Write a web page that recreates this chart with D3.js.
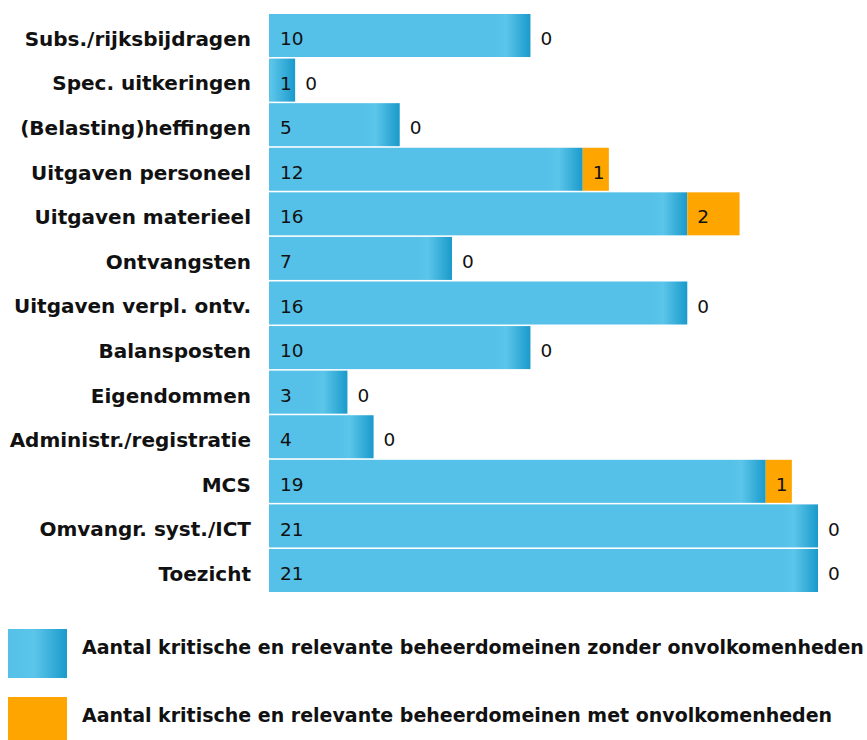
<!DOCTYPE html>
<html>
<head>
<meta charset="utf-8">
<script src="https://cdn.jsdelivr.net/npm/d3@7"></script>
<style>
    body { margin: 0; background: #fff; }
    svg text { font-family: "DejaVu Sans", Verdana, sans-serif; fill: #111; }
    .cat { font-weight: bold; font-size: 20px; }
    .val { font-size: 18.5px; }
    .leg { font-weight: bold; font-size: 19px; }
</style>
</head>
<body>
<svg id="chart"></svg>
<script>
// 分类
var categories = ['Subs./rijksbijdragen', 'Spec. uitkeringen', '(Belasting)heffingen', 'Uitgaven personeel',
    'Uitgaven materieel', 'Ontvangsten', 'Uitgaven verpl. ontv.', 'Balansposten', 'Eigendommen',
    'Administr./registratie', 'MCS', 'Omvangr. syst./ICT', 'Toezicht'];
// 无缺陷
var zonder = [10, 1, 5, 12, 16, 7, 16, 10, 3, 4, 19, 21, 21];
// 有缺陷
var met = [0, 0, 0, 1, 2, 0, 0, 0, 0, 0, 1, 0, 0];
var legendLabels = ['Aantal kritische en relevante beheerdomeinen zonder onvolkomenheden',
    'Aantal kritische en relevante beheerdomeinen met onvolkomenheden'];

var svgWidth = 867, svgHeight = 740;
var padding = {left: 269, top: 14, bottom: 148};
var blue = '#55c1e8', blueDark = '#1a9acb', orange = '#ffa500';

var svg = d3.select('#chart').attr('width', svgWidth).attr('height', svgHeight);
var defs = svg.append('defs');

var x = d3.scaleLinear().domain([0, 21]).range([padding.left, 818]);
var y = d3.scaleBand().domain(categories)
    .range([padding.top, svgHeight - padding.bottom])
    .paddingInner(0.035);

var rows = svg.selectAll('.row')
    .data(categories)
    .enter()
    .append('g')
    .attr('class', 'row')
    .attr('transform', function(d) { return 'translate(0,' + y(d) + ')'; });

// 分类标签
rows.append('text')
    .attr('class', 'cat')
    .attr('x', 251)
    .attr('y', y.bandwidth() / 2)
    .attr('dy', '0.52em')
    .attr('text-anchor', 'end')
    .text(function(d) { return d; });

// 蓝色柱（右端渐变加深）
rows.append('rect')
    .attr('x', x(0))
    .attr('y', 0)
    .attr('width', function(d, i) { return x(zonder[i]) - x(0); })
    .attr('height', y.bandwidth())
    .each(function(d, i) {
        var w = x(zonder[i]) - x(0);
        var id = 'g' + i;
        var g = defs.append('linearGradient').attr('id', id)
            .attr('gradientUnits', 'userSpaceOnUse')
            .attr('x1', x(0)).attr('x2', x(zonder[i])).attr('y1', 0).attr('y2', 0);
        var a = Math.max(0, (w - 36) / w), b = Math.max(0, (w - 24) / w);
        g.append('stop').attr('offset', 0).attr('stop-color', blue);
        g.append('stop').attr('offset', a).attr('stop-color', blue);
        g.append('stop').attr('offset', b).attr('stop-color', '#5bc5ea');
        g.append('stop').attr('offset', 1).attr('stop-color', blueDark);
        d3.select(this).attr('fill', 'url(#' + id + ')');
    });

rows.append('text')
    .attr('class', 'val')
    .attr('x', x(0) + 11)
    .attr('y', y.bandwidth() / 2)
    .attr('dy', '0.52em')
    .text(function(d, i) { return zonder[i]; });

// 橙色柱
rows.filter(function(d, i) { return met[i] > 0; })
    .append('rect')
    .attr('x', function(d) { var i = categories.indexOf(d); return x(zonder[i]); })
    .attr('y', 0)
    .attr('width', function(d) { var i = categories.indexOf(d); return x(met[i]) - x(0); })
    .attr('height', y.bandwidth())
    .attr('fill', orange);

rows.append('text')
    .attr('class', 'val')
    .attr('x', function(d, i) { return x(zonder[i]) + 10; })
    .attr('y', y.bandwidth() / 2)
    .attr('dy', '0.52em')
    .text(function(d, i) { return met[i]; });

// 图例
var legend = svg.selectAll('.legend')
    .data(legendLabels)
    .enter()
    .append('g')
    .attr('class', 'legend')
    .attr('transform', function(d, i) { return 'translate(8,' + (629 + i * 68) + ')'; });
legend.append('rect')
    .attr('width', 59)
    .attr('height', 49)
    .attr('fill', function(d, i) {
        if (i === 1) return orange;
        var g = defs.append('linearGradient').attr('id', 'lg0')
            .attr('x1', 0).attr('x2', 1).attr('y1', 0).attr('y2', 0);
        g.append('stop').attr('offset', 0).attr('stop-color', blue);
        g.append('stop').attr('offset', 0.45).attr('stop-color', '#5bc5ea');
        g.append('stop').attr('offset', 1).attr('stop-color', blueDark);
        return 'url(#lg0)';
    });
legend.append('text')
    .attr('class', 'leg')
    .attr('x', 74)
    .attr('y', 25)
    .text(function(d) { return d; });
</script>
</body>
</html>
